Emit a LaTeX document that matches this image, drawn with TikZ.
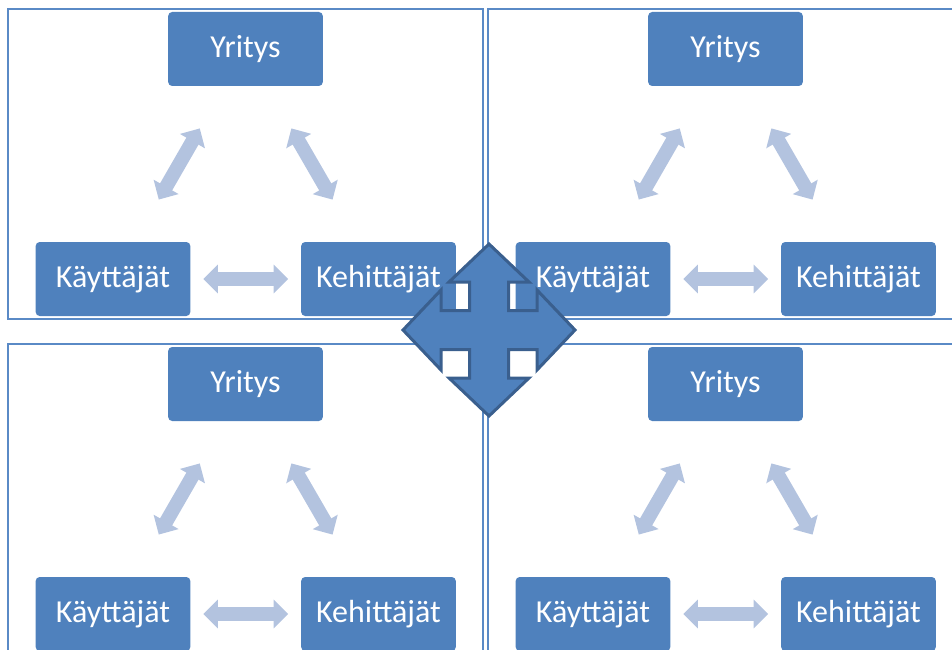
\documentclass[tikz,border=0pt]{standalone}
\usepackage{fontspec}
\setmainfont{Carlito}
\usetikzlibrary{arrows.meta}
\definecolor{boxblue}{HTML}{4F81BD}
\definecolor{linkgrey}{HTML}{B3C3DF}
\definecolor{hubedge}{HTML}{3A5F8E}
\definecolor{panelblue}{HTML}{5A8AC6}

\begin{document}
\begin{tikzpicture}[x=0.75pt,y=-0.75pt,
  bluebox/.style={fill=boxblue,rounded corners=3pt,minimum width=116pt,minimum height=55.5pt,
    inner sep=0pt,text=white,font=\fontsize{24}{28}\selectfont},
  twoway/.style={linkgrey,line width=10.5pt,
    {Triangle[width=21pt,length=11pt]}-{Triangle[width=21pt,length=11pt]}},
  panelline/.style={panelblue,line width=1.5pt}]
\useasboundingbox (0,0) rectangle (952,649);
\clip (0,0) rectangle (952,649);
% four panels, same triangle in each
\foreach \dx/\dy/\p in {0/0/a,480/0/b,0/335/c,480/335/d}{
  \begin{scope}[shift={(\dx,\dy)}]
    \draw[panelline] (8,9) rectangle (483,319);
    \node[bluebox] (yri\p) at (245.5,49) {Yritys};
    \node[bluebox] (kay\p) at (113,279) {Käyttäjät};
    \node[bluebox] (keh\p) at (378.5,279) {Kehittäjät};
    \draw[twoway,shorten <=36.5pt,shorten >=36.5pt] (kay\p) -- (yri\p);
    \draw[twoway,shorten <=36.5pt,shorten >=36.5pt] (keh\p) -- (yri\p);
    \draw[twoway,shorten <=9.5pt,shorten >=9.5pt] (kay\p) -- (keh\p);
  \end{scope}
}
% four-way arrow in the middle
\coordinate (hub) at (489,330);
\begin{scope}[shift={(hub)}]
  \draw[fill=boxblue,draw=hubedge,line width=2.25pt,line join=miter]
    (0,-86) -- (40,-48) -- (19.5,-48) -- (19.5,-19.5) -- (48,-19.5) -- (48,-40)
    -- (86,0) -- (48,40) -- (48,19.5) -- (19.5,19.5) -- (19.5,48) -- (40,48)
    -- (0,86) -- (-40,48) -- (-19.5,48) -- (-19.5,19.5) -- (-48,19.5) -- (-48,40)
    -- (-86,0) -- (-48,-40) -- (-48,-19.5) -- (-19.5,-19.5) -- (-19.5,-48) -- (-40,-48) -- cycle;
\end{scope}
\end{tikzpicture}
\end{document}
